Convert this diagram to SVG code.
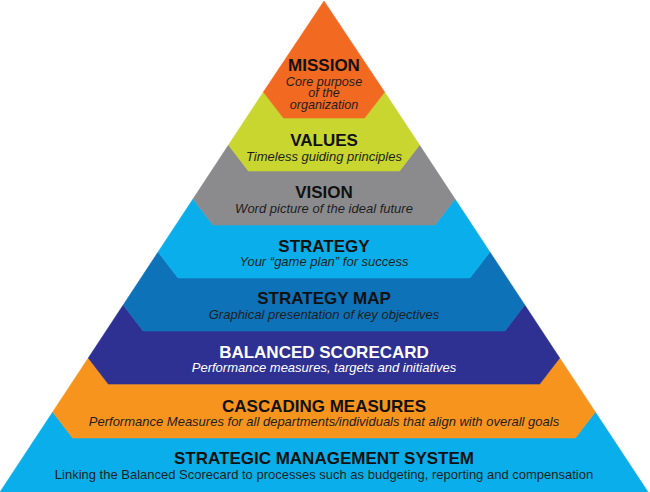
<svg xmlns="http://www.w3.org/2000/svg" width="650" height="492" viewBox="0 0 650 492">
<style>
.h{font-family:"Liberation Sans",Arial,sans-serif;font-weight:bold;font-size:17px;text-anchor:middle;fill:#111}
.s{font-family:"Liberation Sans",Arial,sans-serif;font-style:italic;font-size:13px;text-anchor:middle;fill:#1e1e1e}
.m{font-size:12.6px}
.r{font-family:"Liberation Sans",Arial,sans-serif;font-size:13px;text-anchor:middle;fill:#1e1e1e}
.w{fill:#fff}
</style>
<rect width="650" height="492" fill="#fff"/>
<g id="sms">
<polygon points="52.7,412 72.7,438 575.3,438 595.3,412 648,492 0,492" fill="#0aaeea" stroke="#0aaeea" stroke-width="0.6"/>
<text class="h" x="324" y="464">STRATEGIC MANAGEMENT SYSTEM</text>
<text class="r" x="324" y="479">Linking the Balanced Scorecard to processes such as budgeting, reporting and compensation</text>
</g>
<g id="cascading">
<polygon points="88.3,358 108.3,384 539.7,384 559.7,358 595.3,412 575.3,438 72.7,438 52.7,412" fill="#f7941e" stroke="#f7941e" stroke-width="0.6"/>
<text class="h" x="324" y="412">CASCADING MEASURES</text>
<text class="s" x="324" y="426">Performance Measures for all departments/individuals that align with overall goals</text>
</g>
<g id="bsc">
<polygon points="123.2,305 143.2,331 504.8,331 524.8,305 559.7,358 539.7,384 108.3,384 88.3,358" fill="#2e3192" stroke="#2e3192" stroke-width="0.6"/>
<text class="h w" x="324" y="358">BALANCED SCORECARD</text>
<text class="s w" x="324" y="372">Performance measures, targets and initiatives</text>
</g>
<g id="strategy-map">
<polygon points="158.1,252 178.1,278 469.9,278 489.9,252 524.8,305 504.8,331 143.2,331 123.2,305" fill="#0d72b8" stroke="#0d72b8" stroke-width="0.6"/>
<text class="h" x="324" y="304">STRATEGY MAP</text>
<text class="s" x="324" y="319">Graphical presentation of key objectives</text>
</g>
<g id="strategy">
<polygon points="193,199 213,225 435,225 455,199 489.9,252 469.9,278 178.1,278 158.1,252" fill="#0aaeea" stroke="#0aaeea" stroke-width="0.6"/>
<text class="h" x="324" y="252">STRATEGY</text>
<text class="s" x="324" y="266">Your “game plan” for success</text>
</g>
<g id="vision">
<polygon points="228.5,145 248.5,171 399.5,171 419.5,145 455,199 435,225 213,225 193,199" fill="#8b8b8d" stroke="#8b8b8d" stroke-width="0.6"/>
<text class="h" x="324" y="198">VISION</text>
<text class="s" x="324" y="213">Word picture of the ideal future</text>
</g>
<g id="values">
<polygon points="263.4,92 283.4,118 364.6,118 384.6,92 419.5,145 399.5,171 248.5,171 228.5,145" fill="#c8d62f" stroke="#c8d62f" stroke-width="0.6"/>
<text class="h" x="324" y="146">VALUES</text>
<text class="s" x="324" y="161">Timeless guiding principles</text>
</g>
<g id="mission">
<polygon points="324,1 384.6,92 364.6,118 283.4,118 263.4,92" fill="#f26a21" stroke="#f26a21" stroke-width="0.6"/>
<text class="h" x="324" y="71">MISSION</text>
<text class="s m" x="324" y="85.5">Core purpose</text>
<text class="s m" x="324" y="97.3">of the</text>
<text class="s m" x="324" y="109">organization</text>
</g>
<g id="connectors"/>
</svg>
